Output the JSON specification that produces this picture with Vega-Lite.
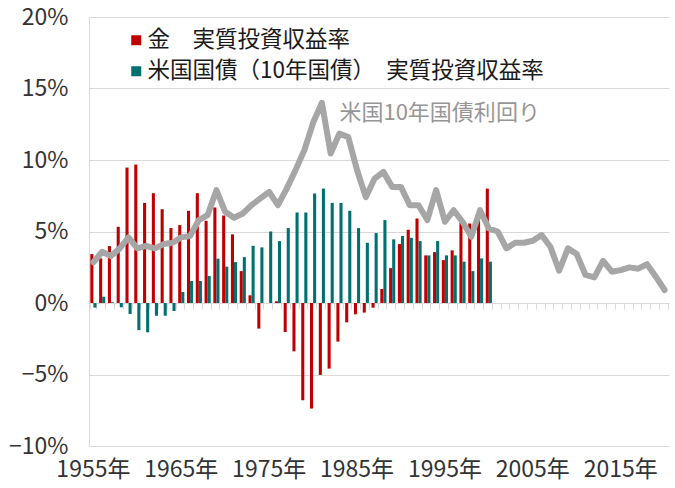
{
  "$schema": "https://vega.github.io/schema/vega-lite/v6.json",
  "width": 580,
  "height": 429,
  "autosize": {"type": "none"},
  "padding": {"left": 89, "top": 17, "right": 6, "bottom": 42},
  "background": "white",
  "config": {"view": {"stroke": null}, "font": "Noto Sans CJK JP"},
  "datasets": {
    "bars": [
      {"year": 1955, "series": "金　実質投資収益率", "value": 3.42},
      {"year": 1956, "series": "金　実質投資収益率", "value": 3.12},
      {"year": 1957, "series": "金　実質投資収益率", "value": 3.98},
      {"year": 1958, "series": "金　実質投資収益率", "value": 5.33},
      {"year": 1959, "series": "金　実質投資収益率", "value": 9.47},
      {"year": 1960, "series": "金　実質投資収益率", "value": 9.68},
      {"year": 1961, "series": "金　実質投資収益率", "value": 7.0},
      {"year": 1962, "series": "金　実質投資収益率", "value": 7.68},
      {"year": 1963, "series": "金　実質投資収益率", "value": 6.56},
      {"year": 1964, "series": "金　実質投資収益率", "value": 5.24},
      {"year": 1965, "series": "金　実質投資収益率", "value": 5.45},
      {"year": 1966, "series": "金　実質投資収益率", "value": 6.45},
      {"year": 1967, "series": "金　実質投資収益率", "value": 7.68},
      {"year": 1968, "series": "金　実質投資収益率", "value": 5.75},
      {"year": 1969, "series": "金　実質投資収益率", "value": 6.68},
      {"year": 1970, "series": "金　実質投資収益率", "value": 6.12},
      {"year": 1971, "series": "金　実質投資収益率", "value": 4.8},
      {"year": 1972, "series": "金　実質投資収益率", "value": 2.23},
      {"year": 1973, "series": "金　実質投資収益率", "value": 0.54},
      {"year": 1974, "series": "金　実質投資収益率", "value": -1.79},
      {"year": 1975, "series": "金　実質投資収益率", "value": 0.0},
      {"year": 1976, "series": "金　実質投資収益率", "value": 0.12},
      {"year": 1977, "series": "金　実質投資収益率", "value": -2.03},
      {"year": 1978, "series": "金　実質投資収益率", "value": -3.38},
      {"year": 1979, "series": "金　実質投資収益率", "value": -6.8},
      {"year": 1980, "series": "金　実質投資収益率", "value": -7.38},
      {"year": 1981, "series": "金　実質投資収益率", "value": -5.03},
      {"year": 1982, "series": "金　実質投資収益率", "value": -4.59},
      {"year": 1983, "series": "金　実質投資収益率", "value": -2.7},
      {"year": 1984, "series": "金　実質投資収益率", "value": -1.35},
      {"year": 1985, "series": "金　実質投資収益率", "value": -0.79},
      {"year": 1986, "series": "金　実質投資収益率", "value": -0.67},
      {"year": 1987, "series": "金　実質投資収益率", "value": -0.33},
      {"year": 1988, "series": "金　実質投資収益率", "value": 0.98},
      {"year": 1989, "series": "金　実質投資収益率", "value": 2.44},
      {"year": 1990, "series": "金　実質投資収益率", "value": 4.12},
      {"year": 1991, "series": "金　実質投資収益率", "value": 5.12},
      {"year": 1992, "series": "金　実質投資収益率", "value": 5.91},
      {"year": 1993, "series": "金　実質投資収益率", "value": 3.33},
      {"year": 1994, "series": "金　実質投資収益率", "value": 3.56},
      {"year": 1995, "series": "金　実質投資収益率", "value": 3.0},
      {"year": 1996, "series": "金　実質投資収益率", "value": 3.68},
      {"year": 1997, "series": "金　実質投資収益率", "value": 5.59},
      {"year": 1998, "series": "金　実質投資収益率", "value": 5.56},
      {"year": 1999, "series": "金　実質投資収益率", "value": 6.3},
      {"year": 2000, "series": "金　実質投資収益率", "value": 8.0},
      {"year": 1955, "series": "米国国債（10年国債）　実質投資収益率", "value": -0.32},
      {"year": 1956, "series": "米国国債（10年国債）　実質投資収益率", "value": 0.44},
      {"year": 1957, "series": "米国国債（10年国債）　実質投資収益率", "value": 0.05},
      {"year": 1958, "series": "米国国債（10年国債）　実質投資収益率", "value": -0.3},
      {"year": 1959, "series": "米国国債（10年国債）　実質投資収益率", "value": -0.77},
      {"year": 1960, "series": "米国国債（10年国債）　実質投資収益率", "value": -1.9},
      {"year": 1961, "series": "米国国債（10年国債）　実質投資収益率", "value": -2.05},
      {"year": 1962, "series": "米国国債（10年国債）　実質投資収益率", "value": -0.89},
      {"year": 1963, "series": "米国国債（10年国債）　実質投資収益率", "value": -0.89},
      {"year": 1964, "series": "米国国債（10年国債）　実質投資収益率", "value": -0.56},
      {"year": 1965, "series": "米国国債（10年国債）　実質投資収益率", "value": 0.77},
      {"year": 1966, "series": "米国国債（10年国債）　実質投資収益率", "value": 1.54},
      {"year": 1967, "series": "米国国債（10年国債）　実質投資収益率", "value": 1.54},
      {"year": 1968, "series": "米国国債（10年国債）　実質投資収益率", "value": 1.89},
      {"year": 1969, "series": "米国国債（10年国債）　実質投資収益率", "value": 3.1},
      {"year": 1970, "series": "米国国債（10年国債）　実質投資収益率", "value": 2.54},
      {"year": 1971, "series": "米国国債（10年国債）　実質投資収益率", "value": 2.86},
      {"year": 1972, "series": "米国国債（10年国債）　実質投資収益率", "value": 3.21},
      {"year": 1973, "series": "米国国債（10年国債）　実質投資収益率", "value": 4.0},
      {"year": 1974, "series": "米国国債（10年国債）　実質投資収益率", "value": 3.89},
      {"year": 1975, "series": "米国国債（10年国債）　実質投資収益率", "value": 5.0},
      {"year": 1976, "series": "米国国債（10年国債）　実質投資収益率", "value": 4.33},
      {"year": 1977, "series": "米国国債（10年国債）　実質投資収益率", "value": 5.24},
      {"year": 1978, "series": "米国国債（10年国債）　実質投資収益率", "value": 6.33},
      {"year": 1979, "series": "米国国債（10年国債）　実質投資収益率", "value": 6.33},
      {"year": 1980, "series": "米国国債（10年国債）　実質投資収益率", "value": 7.66},
      {"year": 1981, "series": "米国国債（10年国債）　実質投資収益率", "value": 8.0},
      {"year": 1982, "series": "米国国債（10年国債）　実質投資収益率", "value": 7.0},
      {"year": 1983, "series": "米国国債（10年国債）　実質投資収益率", "value": 7.0},
      {"year": 1984, "series": "米国国債（10年国債）　実質投資収益率", "value": 6.45},
      {"year": 1985, "series": "米国国債（10年国債）　実質投資収益率", "value": 5.24},
      {"year": 1986, "series": "米国国債（10年国債）　実質投資収益率", "value": 4.21},
      {"year": 1987, "series": "米国国債（10年国債）　実質投資収益率", "value": 4.89},
      {"year": 1988, "series": "米国国債（10年国債）　実質投資収益率", "value": 5.8},
      {"year": 1989, "series": "米国国債（10年国債）　実質投資収益率", "value": 4.45},
      {"year": 1990, "series": "米国国債（10年国債）　実質投資収益率", "value": 4.68},
      {"year": 1991, "series": "米国国債（10年国債）　実質投資収益率", "value": 4.56},
      {"year": 1992, "series": "米国国債（10年国債）　実質投資収益率", "value": 4.33},
      {"year": 1993, "series": "米国国債（10年国債）　実質投資収益率", "value": 3.33},
      {"year": 1994, "series": "米国国債（10年国債）　実質投資収益率", "value": 4.33},
      {"year": 1995, "series": "米国国債（10年国債）　実質投資収益率", "value": 3.33},
      {"year": 1996, "series": "米国国債（10年国債）　実質投資収益率", "value": 3.33},
      {"year": 1997, "series": "米国国債（10年国債）　実質投資収益率", "value": 2.89},
      {"year": 1998, "series": "米国国債（10年国債）　実質投資収益率", "value": 2.23},
      {"year": 1999, "series": "米国国債（10年国債）　実質投資収益率", "value": 3.12},
      {"year": 2000, "series": "米国国債（10年国債）　実質投資収益率", "value": 2.89}
    ],
    "line": [
      {"year": 1955, "yield": 2.85}, {"year": 1956, "yield": 3.58}, {"year": 1957, "yield": 3.28},
      {"year": 1958, "yield": 3.82}, {"year": 1959, "yield": 4.59}, {"year": 1960, "yield": 3.82},
      {"year": 1961, "yield": 4.0}, {"year": 1962, "yield": 3.82}, {"year": 1963, "yield": 4.12},
      {"year": 1964, "yield": 4.21}, {"year": 1965, "yield": 4.59}, {"year": 1966, "yield": 4.68},
      {"year": 1967, "yield": 5.8}, {"year": 1968, "yield": 6.15}, {"year": 1969, "yield": 7.89},
      {"year": 1970, "yield": 6.38}, {"year": 1971, "yield": 5.96}, {"year": 1972, "yield": 6.26},
      {"year": 1973, "yield": 6.84}, {"year": 1974, "yield": 7.31}, {"year": 1975, "yield": 7.77},
      {"year": 1976, "yield": 6.84}, {"year": 1977, "yield": 8.0}, {"year": 1978, "yield": 9.29},
      {"year": 1979, "yield": 10.68}, {"year": 1980, "yield": 12.6}, {"year": 1981, "yield": 14.0},
      {"year": 1982, "yield": 10.45}, {"year": 1983, "yield": 11.85}, {"year": 1984, "yield": 11.6},
      {"year": 1985, "yield": 9.3}, {"year": 1986, "yield": 7.4}, {"year": 1987, "yield": 8.7},
      {"year": 1988, "yield": 9.17}, {"year": 1989, "yield": 8.12}, {"year": 1990, "yield": 8.12},
      {"year": 1991, "yield": 6.84}, {"year": 1992, "yield": 6.84}, {"year": 1993, "yield": 5.8},
      {"year": 1994, "yield": 7.89}, {"year": 1995, "yield": 5.68}, {"year": 1996, "yield": 6.49},
      {"year": 1997, "yield": 5.68}, {"year": 1998, "yield": 4.63}, {"year": 1999, "yield": 6.49},
      {"year": 2000, "yield": 5.21}, {"year": 2001, "yield": 5.0}, {"year": 2002, "yield": 3.82},
      {"year": 2003, "yield": 4.21}, {"year": 2004, "yield": 4.21}, {"year": 2005, "yield": 4.35},
      {"year": 2006, "yield": 4.75}, {"year": 2007, "yield": 3.93}, {"year": 2008, "yield": 2.26},
      {"year": 2009, "yield": 3.82}, {"year": 2010, "yield": 3.42}, {"year": 2011, "yield": 1.96},
      {"year": 2012, "yield": 1.79}, {"year": 2013, "yield": 2.95}, {"year": 2014, "yield": 2.19},
      {"year": 2015, "yield": 2.3}, {"year": 2016, "yield": 2.49}, {"year": 2017, "yield": 2.4},
      {"year": 2018, "yield": 2.72}, {"year": 2019, "yield": 1.84}, {"year": 2020, "yield": 0.91}
    ],
    "note": [
      {"year": 1983, "value": 13.3, "label": "米国10年国債利回り"}
    ]
  },
  "resolve": {"axis": {"x": "independent"}},
  "layer": [
    {
      "data": {"name": "bars"},
      "mark": {"type": "bar"},
      "encoding": {
        "x": {
          "field": "year", "type": "ordinal", "sort": "ascending",
          "scale": {"paddingInner": 0.3, "paddingOuter": 0.15},
          "axis": {
            "orient": "bottom", "offset": -143, "labels": false, "title": null,
            "domain": true, "domainColor": "#d9d9d9", "domainWidth": 1,
            "ticks": true, "tickBand": "extent", "tickSize": 6, "tickColor": "#d9d9d9",
            "grid": false
          }
        },
        "xOffset": {
          "field": "series", "type": "nominal",
          "scale": {"domain": ["金　実質投資収益率", "米国国債（10年国債）　実質投資収益率"], "paddingInner": 0}
        },
        "y": {
          "field": "value", "type": "quantitative",
          "scale": {"domain": [-10, 20], "nice": false},
          "axis": {
            "title": null, "values": [-10, -5, 0, 5, 10, 15, 20],
            "labelExpr": "(datum.value < 0 ? '−' + abs(datum.value) : datum.value) + '%'",
            "grid": true, "gridColor": "#d9d9d9", "gridWidth": 1,
            "domain": true, "domainColor": "#d9d9d9",
            "ticks": false, "tickSize": 0, "labelPadding": 21,
            "labelFontSize": 23, "labelColor": "#333333", "labelFont": "Noto Sans CJK JP"
          }
        },
        "color": {
          "field": "series", "type": "nominal",
          "scale": {"domain": ["金　実質投資収益率", "米国国債（10年国債）　実質投資収益率"], "range": ["#c00000", "#007070"]},
          "legend": {
            "orient": "none", "legendX": 36, "legendY": 12, "title": null,
            "symbolType": "square", "symbolSize": 100, "symbolStrokeWidth": 0,
            "labelFontSize": 22.5, "labelOffset": 0, "rowPadding": 8,
            "labelColor": "#1a1a1a", "labelLimit": 600, "labelFont": "Noto Sans CJK JP"
          }
        }
      }
    },
    {
      "data": {"name": "line"},
      "mark": {"type": "line", "color": "#a6a6a6", "strokeWidth": 6, "strokeJoin": "round", "strokeCap": "round"},
      "encoding": {
        "x": {
          "field": "year", "type": "ordinal", "sort": "ascending",
          "axis": {
            "orient": "bottom", "title": null, "domain": false, "ticks": false, "tickSize": 0,
            "labelExpr": "(datum.value - 1955) % 10 == 0 ? datum.value + '年' : ''",
            "labelOverlap": false, "labelAngle": 0, "labelFontSize": 23, "labelPadding": 12,
            "labelColor": "#333333", "labelFont": "Noto Sans CJK JP", "grid": false
          }
        },
        "y": {
          "field": "yield", "type": "quantitative",
          "axis": {
            "title": null, "values": [-10, -5, 0, 5, 10, 15, 20],
            "labelExpr": "(datum.value < 0 ? '−' + abs(datum.value) : datum.value) + '%'",
            "grid": true, "gridColor": "#d9d9d9", "gridWidth": 1,
            "domain": true, "domainColor": "#d9d9d9",
            "ticks": false, "tickSize": 0, "labelPadding": 21,
            "labelFontSize": 23, "labelColor": "#333333", "labelFont": "Noto Sans CJK JP"
          }
        }
      }
    },
    {
      "data": {"name": "note"},
      "mark": {"type": "text", "align": "left", "baseline": "middle", "fontSize": 22, "color": "#969696", "font": "Noto Sans CJK JP"},
      "encoding": {
        "x": {"field": "year", "type": "ordinal", "axis": null},
        "y": {
          "field": "value", "type": "quantitative",
          "axis": {
            "title": null, "values": [-10, -5, 0, 5, 10, 15, 20],
            "labelExpr": "(datum.value < 0 ? '−' + abs(datum.value) : datum.value) + '%'",
            "grid": true, "gridColor": "#d9d9d9", "gridWidth": 1,
            "domain": true, "domainColor": "#d9d9d9",
            "ticks": false, "tickSize": 0, "labelPadding": 21,
            "labelFontSize": 23, "labelColor": "#333333", "labelFont": "Noto Sans CJK JP"
          }
        },
        "text": {"field": "label"}
      }
    }
  ]
}
